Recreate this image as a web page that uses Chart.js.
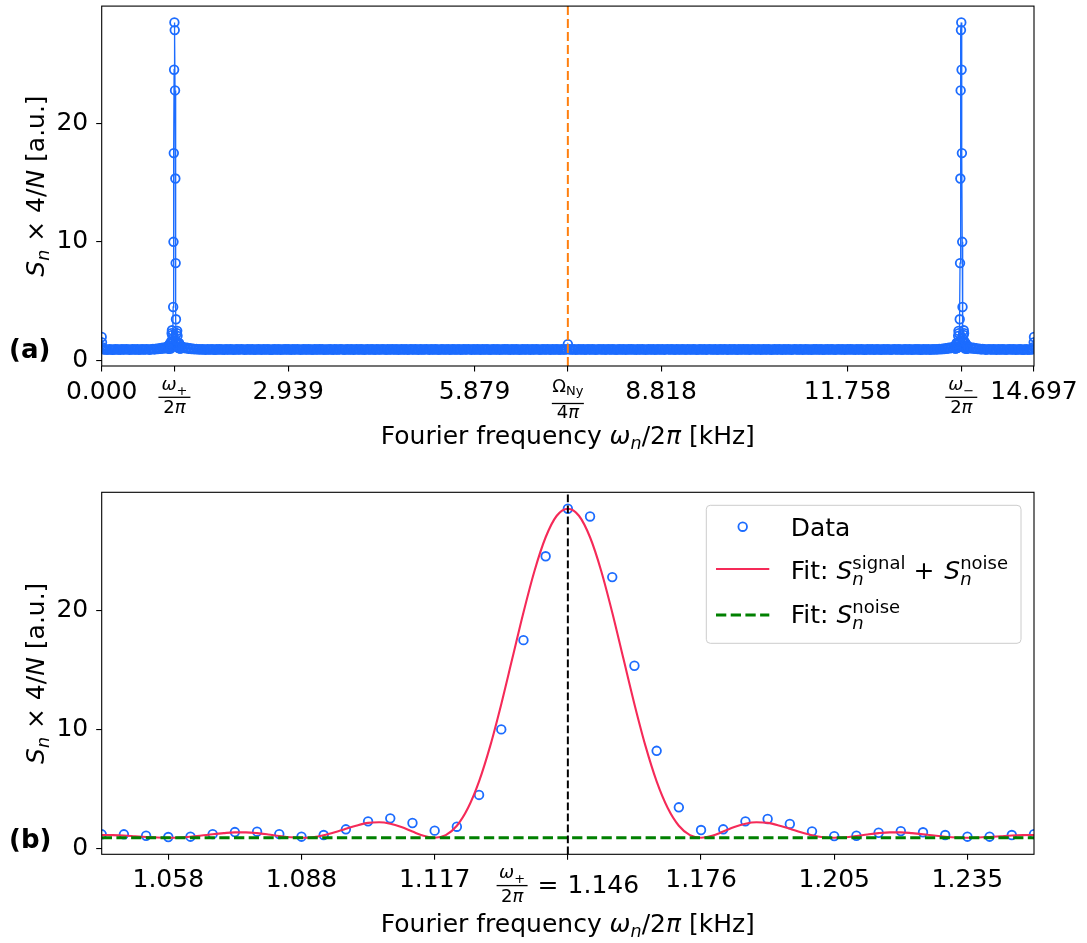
<!DOCTYPE html>
<html><head><meta charset="utf-8">
<script src="https://cdn.jsdelivr.net/npm/chart.js@4.4.1/dist/chart.umd.min.js"></script>
<style>
html,body{margin:0;padding:0;background:#fff;}
#wrap{position:relative;width:1087px;height:943px;overflow:hidden;}
#c1{position:absolute;left:0;top:0;}
#c2{position:absolute;left:0;top:470px;}
</style></head><body>
<div id="wrap">
<canvas id="c1" width="1087" height="470"></canvas>
<canvas id="c2" width="1087" height="473"></canvas>
</div>
<script>
// ================= DATA =================
const SPAN_KHZ = 14.697;      // full frequency span of panel (a)
const N_BINS = 3000;          // number of Fourier bins over that span
const BIN_KHZ = SPAN_KHZ / N_BINS;
const PEAK_BIN = 234;         // omega_+/2pi = 1.146 kHz
const NYQ_BIN = 1500;         // Omega_Ny/4pi
const MIRROR_BIN = N_BINS - PEAK_BIN; // omega_-/2pi

// panel (b): data points around the omega_+ peak
const zoomBins = [213,214,215,216,217,218,219,220,221,222,223,224,225,226,227,228,229,230,231,232,233,234,
  235,236,237,238,239,240,241,242,243,244,245,246,247,248,249,250,251,252,253,254,255];
const zoomVals = [1.18,1.18,1.06,0.95,0.98,1.20,1.37,1.40,1.20,0.98,1.12,1.60,2.27,2.52,2.13,1.49,1.82,4.49,10.0,17.5,24.55,28.55,
  27.9,22.8,15.35,8.2,3.45,1.54,1.60,2.27,2.47,2.05,1.43,1.03,1.06,1.31,1.45,1.35,1.12,0.98,0.98,1.12,1.20];

// panel (b): fitted curve S_signal + S_noise
const fitBins = [213,213.5,214,214.5,215,215.5,216,216.5,217,217.5,218,218.5,219,219.5,220,220.5,221,221.5,222,222.5,
  223,223.5,224,224.5,225,225.5,226,226.5,227,227.5,228,228.5,229,229.5,230,230.5,231,231.5,232,232.5,
  233,233.5,234,234.5,235,235.5,236,236.5,237,237.5,238,238.5,239,239.5,240,240.5,241,241.5,242,242.5,
  243,243.5,244,244.5,245,245.5,246,246.5,247,247.5,248,248.5,249,249.5,250,250.5,251,251.5,252,252.5,
  253,253.5,254,254.5,255];
const fitVals = [1.12,1.11,1.08,1.02,0.96,0.91,0.89,0.91,0.98,1.08,
  1.19,1.28,1.34,1.34,1.28,1.17,1.04,0.93,0.89,0.94,
  1.10,1.35,1.65,1.93,2.14,2.19,2.07,1.79,1.41,1.05,
  0.89,1.11,1.90,3.39,5.63,8.59,12.12,15.97,19.83,23.34,
  26.15,27.96,28.55,
  27.96,26.15,23.34,19.83,15.97,12.12,8.59,5.63,3.39,1.90,1.11,
  0.89,1.05,1.41,1.79,2.07,2.19,2.14,1.93,1.65,1.35,
  1.10,0.94,0.89,0.93,1.04,1.17,1.28,1.34,1.34,1.28,
  1.19,1.08,0.98,0.91,0.89,0.91,0.96,1.02,1.08,1.11,1.12];
const noiseLevel = 0.89;      // fitted S_noise

// panel (a): spectrum 0 .. Nyquist (mirrored above Nyquist)
const dcBins = [0,1,2];
const dcVals = [1.95,1.5,1.1];
const baseABins = [5,10,15,20,25,30,35,40,45,50,55,60,65,70,75,80,85,90,95,100,105,110,115,120,125,130,135,140,145,150,
  155,160,165,170,175,180,185,190,195,200,205,210];
const baseAVals = [0.92,0.89,0.9,0.88,0.91,0.9,0.87,0.9,0.92,0.89,
  0.9,0.88,0.91,0.9,0.89,0.93,0.9,0.88,0.9,0.91,
  0.89,0.9,0.92,0.88,0.9,0.91,0.89,0.9,0.93,0.9,
  0.88,0.92,0.95,0.9,0.97,0.93,1.0,0.96,1.04,0.98,1.08,1.02];
const baseBStart = 260, baseBStep = 5; // bins 260..1495
const baseBVals = [
  1.06,1.1,0.99,1.05,0.96,1.01,0.94,0.97,0.92,0.95,
  0.9,0.93,0.89,0.91,0.9,0.88,0.92,0.9,0.89,0.91,
  0.9,0.87,0.91,0.9,0.92,0.89,0.9,0.88,0.91,0.9,
  0.89,0.92,0.9,0.88,0.9,0.91,0.89,0.9,0.93,0.9,
  0.88,0.9,0.91,0.89,0.9,0.92,0.88,0.9,0.89,0.91,
  0.9,0.88,0.92,0.9,0.89,0.91,0.9,0.87,0.9,0.92,
  0.89,0.9,0.91,0.88,0.9,0.9,0.92,0.89,0.91,0.9,
  0.88,0.91,0.9,0.89,0.93,0.9,0.88,0.9,0.91,0.89,
  0.9,0.92,0.89,0.9,0.88,0.91,0.9,0.89,0.92,0.9,
  0.91,0.88,0.9,0.9,0.89,0.92,0.9,0.88,0.91,0.9,
  0.89,0.9,0.93,0.9,0.88,0.9,0.91,0.89,0.9,0.92,
  0.88,0.9,0.91,0.9,0.89,0.92,0.9,0.88,0.9,0.91,
  0.9,0.89,0.92,0.9,0.88,0.91,0.9,0.9,0.89,0.93,
  0.9,0.88,0.91,0.89,0.9,0.92,0.9,0.89,0.91,0.88,
  0.9,0.91,0.89,0.9,0.92,0.88,0.9,0.91,0.9,0.89,
  0.92,0.9,0.88,0.91,0.9,0.89,0.9,0.93,0.9,0.88,
  0.91,0.9,0.89,0.92,0.9,0.88,0.9,0.91,0.89,0.9,
  0.9,0.92,0.88,0.9,0.91,0.89,0.9,0.9,0.92,0.88,
  0.9,0.91,0.89,0.9,0.93,0.9,0.88,0.91,0.9,0.89,
  0.91,0.9,0.88,0.92,0.9,0.89,0.91,0.9,0.88,0.9,
  0.92,0.89,0.9,0.91,0.88,0.9,0.9,0.92,0.89,0.91,
  0.9,0.88,0.91,0.9,0.89,0.92,0.9,0.88,0.9,0.91,
  0.89,0.9,0.92,0.9,0.88,0.91,0.9,0.89,0.93,0.9,
  0.88,0.9,0.91,0.89,0.9,0.92,0.9,0.88,0.91,0.9,
  0.89,0.92,0.9,0.88,0.91,0.9,0.89,0.92];
const nyqVal = 1.35;

// tick labels
const yTickVals = [0, 10, 20];
const topTickKHz = [0, 2.9394, 5.8788, 8.8182, 11.7576, 14.697];
const topTickLabels = ['0.000','2.939','5.879','8.818','11.758','14.697'];
const zoomTickBins = [216,222,228,234,240,246,252];
const zoomTickLabels = ['1.058','1.088','1.117','1.146','1.176','1.205','1.235'];

// ================= STYLE =================
const BLUE = '#1c6cff', RED = '#f52a58', GREEN = '#008000', ORANGE = '#ff7f0e';
const FAM = '"DejaVu Sans"';
const Y_MIN = -0.5, Y_MAX = 29.93;
const MARK_R = 4.3, MARK_W = 1.8;
function font(size, it, b){ return (it?'italic ':'') + (b?'bold ':'') + size + 'px ' + FAM; }
function T(t, size, o){ o = o||{}; return Object.assign({t:t, size:size}, o); }
function widthRich(ctx, segs){
  let w = 0;
  for (const s of segs){
    if (s.pair){ let m = 0; for (const p of s.pair){ ctx.font = font(p.size,p.it); m = Math.max(m, ctx.measureText(p.t).width); } w += m; }
    else { ctx.font = font(s.size,s.it,s.b); w += ctx.measureText(s.t).width + (s.gap||0); }
  }
  return w;
}
function drawRich(ctx, segs, x, y){
  ctx.textBaseline = 'alphabetic'; ctx.textAlign = 'left'; ctx.fillStyle = '#000';
  for (const s of segs){
    if (s.pair){ let m = 0; for (const p of s.pair){ ctx.font = font(p.size,p.it); ctx.fillText(p.t, x + (p.dx||0), y + (p.dy||0)); m = Math.max(m, ctx.measureText(p.t).width); } x += m; }
    else { ctx.font = font(s.size,s.it,s.b); ctx.fillText(s.t, x, y + (s.dy||0)); x += ctx.measureText(s.t).width + (s.gap||0); }
  }
  return x;
}
function drawFrac(ctx, cx, num, den, numY, barY, denY, barW){
  const wn = widthRich(ctx, num), wd = widthRich(ctx, den);
  drawRich(ctx, num, cx - wn/2, numY);
  drawRich(ctx, den, cx - wd/2, denY);
  ctx.fillStyle = '#000';
  ctx.fillRect(cx - barW/2, barY - 0.65, barW, 1.3);
}
function frame(chart){
  const a = chart.chartArea, ctx = chart.ctx;
  ctx.save(); ctx.strokeStyle = '#000'; ctx.lineWidth = 1.1;
  ctx.strokeRect(a.left, a.top, a.right - a.left, a.bottom - a.top);
  ctx.restore();
}
const xTitleSegs = [T('Fourier frequency ',25), T('ω',25,{it:1}), T('n',17.5,{it:1,dy:5}), T('/2',25), T('π',25,{it:1}), T(' [kHz]',25)];
const yTitleSegs = [T('S',25,{it:1}), T('n',17.5,{it:1,dy:5}), T(' × 4/',25), T('N',25,{it:1}), T(' [a.u.]',25)];
function drawTitles(chart, xBase, yCenter, label, labelBase){
  const ctx = chart.ctx, a = chart.chartArea;
  ctx.save();
  const wx = widthRich(ctx, xTitleSegs);
  drawRich(ctx, xTitleSegs, (a.left + a.right)/2 - wx/2, xBase);
  ctx.translate(43.5, yCenter); ctx.rotate(-Math.PI/2);
  const wy = widthRich(ctx, yTitleSegs);
  drawRich(ctx, yTitleSegs, -wy/2, 0);
  ctx.restore();
  ctx.save(); ctx.font = font(26,false,true); ctx.fillStyle = '#000'; ctx.textBaseline = 'alphabetic'; ctx.textAlign = 'left';
  ctx.fillText(label, 9, labelBase); ctx.restore();
}
function zeroPad(s){ s.paddingTop = 0; s.paddingBottom = 0; s.paddingLeft = 0; s.paddingRight = 0; }
function xScale(min, max, ticks, h){
  return { type:'linear', min:min, max:max,
    afterBuildTicks: s => { s.ticks = ticks.map(t => ({value:t.v})); },
    afterFit: s => { s.height = h; zeroPad(s); },
    ticks: { autoSkip:false, maxRotation:0, minRotation:0, padding:6, color:'#000', font:{family:'DejaVu Sans', size:25},
      callback: (v, i) => ticks[i] ? ticks[i].label : '' },
    grid: { display:true, drawOnChartArea:false, drawTicks:true, tickLength:5.5, color:'#000', lineWidth:1.1 },
    border: { display:false } };
}
function yScale(){
  return { type:'linear', min:Y_MIN, max:Y_MAX,
    afterBuildTicks: s => { s.ticks = yTickVals.map(v => ({value:v})); },
    afterFit: s => { s.width = 101.7; zeroPad(s); },
    ticks: { padding:8, color:'#000', font:{family:'DejaVu Sans', size:25}, callback: v => String(v) },
    grid: { display:true, drawOnChartArea:false, drawTicks:true, tickLength:5.5, color:'#000', lineWidth:1.1 },
    border: { display:false } };
}

// ================= PANEL (a) =================
const leftHalf = [];
dcBins.forEach((b,i) => leftHalf.push({b:b, v:dcVals[i]}));
baseABins.forEach((b,i) => leftHalf.push({b:b, v:baseAVals[i]}));
zoomBins.forEach((b,i) => leftHalf.push({b:b, v:zoomVals[i]}));
baseBVals.forEach((v,i) => leftHalf.push({b:baseBStart + i*baseBStep, v:v}));
const spectrum = leftHalf.map(p => ({x:p.b*BIN_KHZ, y:p.v}));
spectrum.push({x:NYQ_BIN*BIN_KHZ, y:nyqVal});
leftHalf.slice().reverse().forEach(p => spectrum.push({x:(N_BINS - p.b)*BIN_KHZ, y:p.v}));

const topTicks = topTickKHz.map((v,i) => ({v:v, label:topTickLabels[i]}))
  .concat([{v:PEAK_BIN*BIN_KHZ, label:''}, {v:NYQ_BIN*BIN_KHZ, label:''}, {v:MIRROR_BIN*BIN_KHZ, label:''}])
  .sort((a,b) => a.v - b.v);

const topDecor = { id:'topDecor',
  afterDatasetsDraw(chart){ frame(chart); },
  afterDraw(chart){
    const ctx = chart.ctx, xs = chart.scales.x;
    ctx.save();
    const den2 = [T('2',18), T('π',18,{it:1})];
    drawFrac(ctx, xs.getPixelForValue(PEAK_BIN*BIN_KHZ), [T('ω',18,{it:1}), T('+',13,{dy:5})], den2, 390, 397.3, 413.3, 32);
    drawFrac(ctx, xs.getPixelForValue(NYQ_BIN*BIN_KHZ), [T('Ω',18), T('Ny',13,{dy:3})], [T('4',18), T('π',18,{it:1})], 391.7, 403.5, 418.3, 32);
    drawFrac(ctx, xs.getPixelForValue(MIRROR_BIN*BIN_KHZ), [T('ω',18,{it:1}), T('−',13,{dy:5})], den2, 390, 397.3, 413.3, 32);
    ctx.restore();
    drawTitles(chart, 443.5, (chart.chartArea.top + chart.chartArea.bottom)/2, '(a)', 357.5);
  } };

new Chart(document.getElementById('c1'), {
  type:'scatter',
  data:{ datasets:[
    { label:'Ω_Ny/4π', data:[{x:NYQ_BIN*BIN_KHZ, y:Y_MIN},{x:NYQ_BIN*BIN_KHZ, y:Y_MAX}], showLine:true,
      borderColor:ORANGE, borderWidth:2, borderDash:[9,4], pointRadius:0, clip:0, order:0 },
    { label:'Spectrum', data:spectrum, showLine:true, borderColor:BLUE, borderWidth:1.3,
      pointRadius:MARK_R, pointBorderWidth:MARK_W, pointBorderColor:BLUE, pointBackgroundColor:'rgba(0,0,0,0)', clip:0, order:1 }
  ]},
  options:{ responsive:false, devicePixelRatio:1, animation:false, events:[],
    layout:{ padding:{ left:0, right:53, top:5, bottom:0 } },
    plugins:{ legend:{display:false}, tooltip:{enabled:false} },
    scales:{ x: xScale(0, SPAN_KHZ, topTicks, 104), y: yScale() } },
  plugins:[topDecor]
});

// ================= PANEL (b) =================
const zoomTicks = zoomTickBins.map((b,i) => ({v:b*BIN_KHZ, label: b === PEAK_BIN ? '' : zoomTickLabels[i]}));
const zMin = zoomBins[0]*BIN_KHZ, zMax = zoomBins[zoomBins.length-1]*BIN_KHZ;

const botDecor = { id:'botDecor',
  afterDatasetsDraw(chart){ frame(chart); },
  afterDraw(chart){
    const ctx = chart.ctx, xs = chart.scales.x;
    ctx.save();
    // centre tick label: omega_+/2pi = 1.146
    const cx = xs.getPixelForValue(PEAK_BIN*BIN_KHZ);
    const rest = [T('=',25,{gap:9}), T(zoomTickLabels[zoomTickBins.indexOf(PEAK_BIN)],25)];
    const wRest = widthRich(ctx, rest);
    const fracW = 31, gap1 = 10;
    const total = fracW + gap1 + wRest;
    const x0 = cx - total/2;
    drawFrac(ctx, x0 + fracW/2, [T('ω',18,{it:1}), T('+',13,{dy:5})], [T('2',18), T('π',18,{it:1})], 408.3, 415.6, 431.6, fracW);
    drawRich(ctx, rest, x0 + fracW + gap1, 422.5);
    ctx.restore();
    drawTitles(chart, 461.5, (chart.chartArea.top + chart.chartArea.bottom)/2, '(b)', 377.5);
    // legend
    ctx.save();
    const lx = 706.3, ly = 35.3, lw = 314.7, lh = 138, r = 4;
    ctx.beginPath();
    ctx.moveTo(lx + r, ly); ctx.lineTo(lx + lw - r, ly); ctx.arcTo(lx + lw, ly, lx + lw, ly + r, r);
    ctx.lineTo(lx + lw, ly + lh - r); ctx.arcTo(lx + lw, ly + lh, lx + lw - r, ly + lh, r);
    ctx.lineTo(lx + r, ly + lh); ctx.arcTo(lx, ly + lh, lx, ly + lh - r, r);
    ctx.lineTo(lx, ly + r); ctx.arcTo(lx, ly, lx + r, ly, r); ctx.closePath();
    ctx.fillStyle = 'rgba(255,255,255,0.8)'; ctx.fill();
    ctx.strokeStyle = '#cccccc'; ctx.lineWidth = 1; ctx.stroke();
    ctx.beginPath(); ctx.arc(742.7, 56.7, MARK_R, 0, 2*Math.PI); ctx.strokeStyle = BLUE; ctx.lineWidth = MARK_W; ctx.stroke();
    ctx.beginPath(); ctx.moveTo(716, 99); ctx.lineTo(769.3, 99); ctx.strokeStyle = RED; ctx.lineWidth = 2.1; ctx.stroke();
    ctx.beginPath(); ctx.setLineDash([10.3,4.4]); ctx.moveTo(716, 145); ctx.lineTo(769.3, 145); ctx.strokeStyle = GREEN; ctx.lineWidth = 2.8; ctx.stroke();
    ctx.setLineDash([]);
    drawRich(ctx, [T('Data',25)], 790.7, 66);
    drawRich(ctx, [T('Fit: ',25), T('S',25,{it:1}), {pair:[T('signal',18,{dy:-10}), T('n',18,{it:1,dy:6})]},
      T(' + ',25,{gap:2}), T('S',25,{it:1}), {pair:[T('noise',18,{dy:-10}), T('n',18,{it:1,dy:6})]}], 790.7, 109);
    drawRich(ctx, [T('Fit: ',25), T('S',25,{it:1}), {pair:[T('noise',18,{dy:-10}), T('n',18,{it:1,dy:6})]}], 790.7, 153.3);
    ctx.restore();
  } };

new Chart(document.getElementById('c2'), {
  type:'scatter',
  data:{ datasets:[
    { label:'ω+/2π', data:[{x:PEAK_BIN*BIN_KHZ, y:Y_MIN},{x:PEAK_BIN*BIN_KHZ, y:Y_MAX}], showLine:true,
      borderColor:'#000', borderWidth:2, borderDash:[7.7,3.3], pointRadius:0, clip:0, order:0 },
    { label:'Fit: S_noise', data:[{x:zMin, y:noiseLevel},{x:zMax, y:noiseLevel}], showLine:true,
      borderColor:GREEN, borderWidth:2.8, borderDash:[10.3,4.4], pointRadius:0, clip:0, order:1 },
    { label:'Fit: S_signal + S_noise', data:fitBins.map((b,i) => ({x:b*BIN_KHZ, y:fitVals[i]})), showLine:true,
      borderColor:RED, borderWidth:2.1, cubicInterpolationMode:'monotone', pointRadius:0, clip:0, order:2 },
    { label:'Data', data:zoomBins.map((b,i) => ({x:b*BIN_KHZ, y:zoomVals[i]})), showLine:false,
      pointRadius:MARK_R, pointBorderWidth:MARK_W, pointBorderColor:BLUE, pointBackgroundColor:'rgba(0,0,0,0)', clip:0, order:3 }
  ]},
  options:{ responsive:false, devicePixelRatio:1, animation:false, events:[],
    layout:{ padding:{ left:0, right:53, top:22.3, bottom:0 } },
    plugins:{ legend:{display:false}, tooltip:{enabled:false} },
    scales:{ x: xScale(zMin, zMax, zoomTicks, 88.7), y: yScale() } },
  plugins:[botDecor]
});
</script>
</body></html>
